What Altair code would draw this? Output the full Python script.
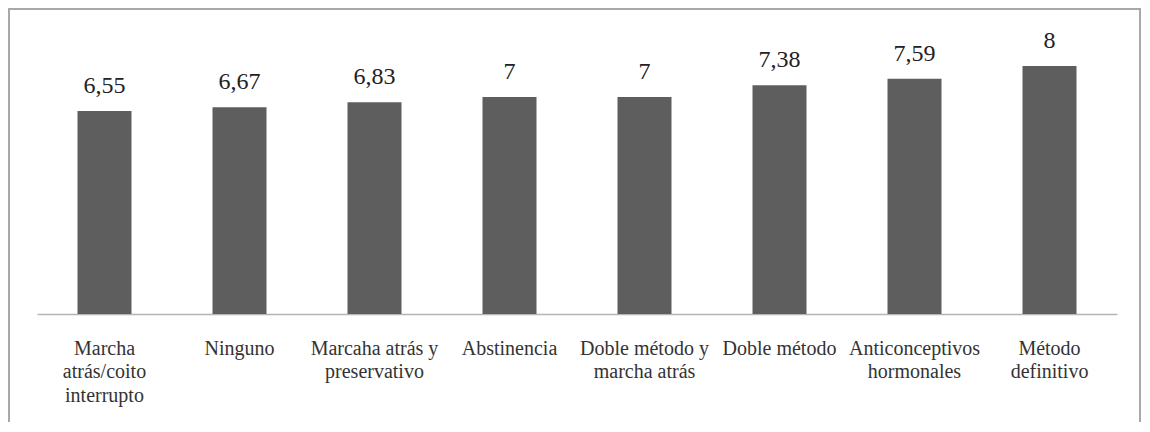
import altair as alt
import pandas as pd

categories = [
    "Marcha|atrás/coito|interrupto",
    "Ninguno",
    "Marcaha atrás y|preservativo",
    "Abstinencia",
    "Doble método y|marcha atrás",
    "Doble método",
    "Anticonceptivos|hormonales",
    "Método|definitivo",
]
values = [6.55, 6.67, 6.83, 7, 7, 7.38, 7.59, 8]
value_labels = [f"{v:g}".replace(".", ",") for v in values]

df = pd.DataFrame({"cat": categories, "value": values, "label": value_labels})

FONT = "Liberation Serif"

x_enc = alt.X(
    "cat:N",
    sort=None,
    title=None,
    scale=alt.Scale(paddingInner=0.6, paddingOuter=0.3),
    axis=alt.Axis(
        labelExpr="split(datum.label, '|')",
        labelAngle=0,
        labelFont=FONT,
        labelFontSize=20,
        labelLineHeight=23.5,
        labelColor="#333333",
        labelPadding=24,
        labelLimit=300,
        ticks=False,
        tickSize=0,
        domainColor="#b5b5b5",
        domainWidth=1.5,
        grid=False,
    ),
)
y_enc = alt.Y(
    "value:Q",
    title=None,
    scale=alt.Scale(domain=[0, 9], nice=False, zero=True),
    axis=None,
)

bars = alt.Chart(df).mark_bar(color="#5e5e5e").encode(x=x_enc, y=y_enc)

text = alt.Chart(df).mark_text(
    font=FONT, fontSize=24, color="#222222", baseline="alphabetic", dy=-18
).encode(x=alt.X("cat:N", sort=None), y="value:Q", text="label:N")

frame = alt.Chart(df).mark_rect(
    fill=None, stroke="#a8a8a8", strokeWidth=2, clip=False
).encode(
    x=alt.value(-28), x2=alt.value(1103), y=alt.value(-26), y2=alt.value(420)
)

chart = (
    alt.layer(frame, bars, text)
    .properties(
        width=1080,
        height=279,
        background="white",
        padding={"left": 29, "top": 27, "right": 24, "bottom": 108},
        autosize=alt.AutoSizeParams(type="none"),
    )
    .configure_view(stroke=None, strokeWidth=0)
)

chart.save("out.html", embed_options={"renderer": "svg", "actions": False})
